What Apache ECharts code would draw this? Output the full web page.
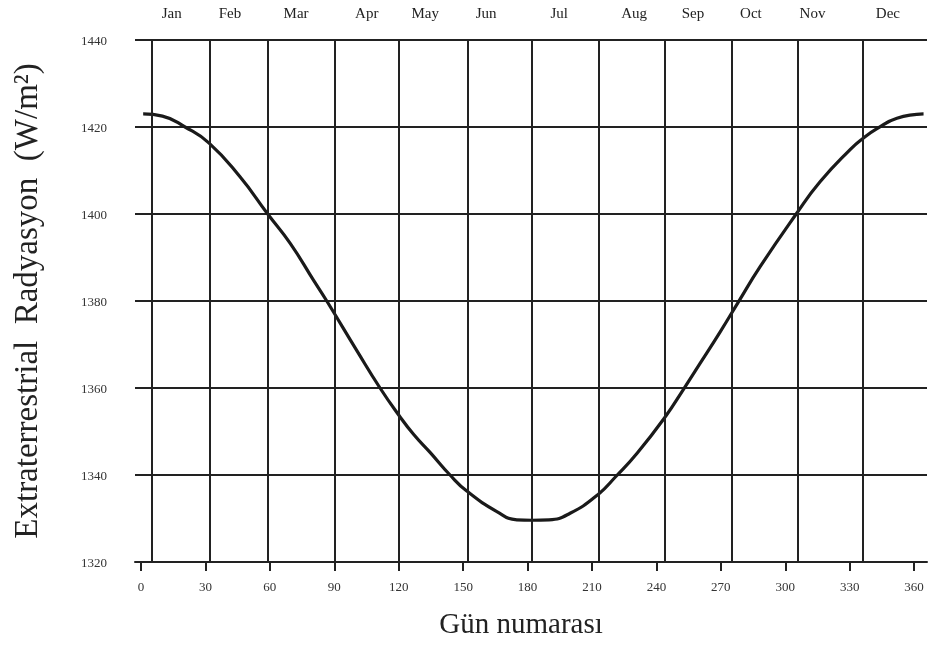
<!DOCTYPE html>
<html>
<head>
<meta charset="utf-8">
<title>Extraterrestrial Radyasyon</title>
<script src="https://cdn.jsdelivr.net/npm/echarts@6/dist/echarts.min.js"></script>
<style>
  html, body { margin: 0; padding: 0; background: #ffffff; }
  #chart { width: 928px; height: 650px; }
</style>
</head>
<body>
<div id="chart"></div>
<script>
// Day of year and extraterrestrial radiation (W/m²)
const dayNumbers = [1, 10, 20.5, 31.7, 46, 59, 69.4, 80.3, 86.5, 100.5, 111.3, 120, 127,
  134.6, 143.9, 151.7, 165.7, 175, 182, 190, 199.8, 213, 221, 231, 244.3, 252.6, 260.4,
  269.7, 278.2, 288.3, 305.1, 316.2, 330.2, 336, 342.7, 352, 364.4];
const radiation = [1423.0, 1422.5, 1420.0, 1416.3, 1408.6, 1400.0, 1393.3, 1384.8, 1380.0,
  1368.6, 1360.0, 1353.8, 1349.3, 1345.2, 1340.0, 1336.3, 1331.6, 1329.7, 1329.6, 1329.7,
  1331.2, 1335.6, 1339.6, 1345.0, 1353.5, 1359.7, 1365.7, 1372.9, 1379.8, 1387.9, 1400.0,
  1407.4, 1414.8, 1417.3, 1419.6, 1422.0, 1423.0];

// Month boundaries (vertical lines) and month name positions along the top
const monthLineDays = [5, 32, 59, 90, 120, 152, 182, 213, 244, 275, 306, 336];
const monthNames = ['Jan', 'Feb', 'Mar', 'Apr', 'May', 'Jun', 'Jul', 'Aug', 'Sep', 'Oct', 'Nov', 'Dec'];
const monthLabelDays = [14.3, 41.4, 72.2, 105.1, 132.3, 160.7, 194.7, 229.6, 257, 284, 312.7, 347.8];

// Axis ticks
const xTickValues = [0, 30, 60, 90, 120, 150, 180, 210, 240, 270, 300, 330, 360];
const yMin = 1320, yMax = 1440, yStep = 20;

const xTitle = 'Gün numarası';
const yTitle = 'Extraterrestrial  Radyasyon  (W/m²)';

const serif = '"Liberation Serif", "DejaVu Serif", serif';
const ink = '#222222';

const chart = echarts.init(document.getElementById('chart'), null, { renderer: 'canvas' });

chart.setOption({
  animation: false,
  backgroundColor: '#ffffff',
  grid: { left: 135, right: 1, top: 40, bottom: 88, containLabel: false },
  xAxis: [
    {
      type: 'value',
      position: 'bottom',
      min: -2.8,
      max: 366,
      axisLine: { show: true, onZero: false, lineStyle: { color: ink, width: 2 } },
      axisTick: { show: true, customValues: xTickValues, length: 9, lineStyle: { color: ink, width: 2 } },
      axisLabel: {
        customValues: xTickValues,
        margin: 19,
        fontFamily: serif,
        fontSize: 13,
        color: '#333333'
      },
      splitLine: { show: false }
    },
    {
      type: 'value',
      position: 'top',
      min: -2.8,
      max: 366,
      axisLine: { show: false },
      axisTick: { show: false },
      axisLabel: {
        customValues: monthLabelDays,
        margin: 18,
        fontFamily: serif,
        fontSize: 15,
        color: '#222222',
        formatter: function (v) {
          const i = monthLabelDays.indexOf(v);
          return i >= 0 ? monthNames[i] : '';
        }
      },
      splitLine: { show: false }
    }
  ],
  yAxis: {
    type: 'value',
    min: yMin,
    max: yMax,
    interval: yStep,
    axisLine: { show: false },
    axisTick: { show: false },
    axisLabel: {
      margin: 28,
      fontFamily: serif,
      fontSize: 13,
      color: '#333333',
      verticalAlign: 'top',
      padding: [-5, 0, 0, 0],
      formatter: function (v) { return String(v); }
    },
    splitLine: { show: true, lineStyle: { color: ink, width: 2 } }
  },
  graphic: [
    {
      type: 'text',
      x: 28,
      y: 301,
      rotation: Math.PI / 2,
      style: {
        text: yTitle,
        fontFamily: serif,
        fontSize: 33,
        fill: '#222222',
        align: 'center',
        verticalAlign: 'middle'
      }
    },
    {
      type: 'text',
      x: 521,
      y: 625,
      style: {
        text: xTitle,
        fontFamily: serif,
        fontSize: 29,
        fill: '#222222',
        align: 'center',
        verticalAlign: 'middle'
      }
    }
  ],
  series: [
    {
      type: 'line',
      xAxisIndex: 0,
      data: dayNumbers.map((d, i) => [d, radiation[i]]),
      smooth: 0.5,
      showSymbol: false,
      lineStyle: { color: '#1a1a1a', width: 3.2 },
      z: 3,
      markLine: {
        silent: true,
        symbol: ['none', 'none'],
        label: { show: false },
        lineStyle: { type: 'solid', color: ink, width: 2 },
        data: monthLineDays.map(d => ({ xAxis: d }))
      }
    }
  ]
});
</script>
</body>
</html>
